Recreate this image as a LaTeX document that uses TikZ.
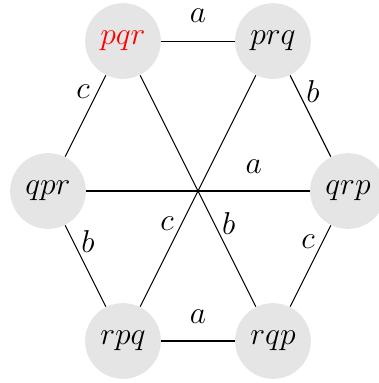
\documentclass[tikz,border=0pt]{standalone}
\usepackage{xcolor}
\usepackage{tikz}
\usetikzlibrary{positioning}

\begin{document}
\begin{tikzpicture}[
    state/.style={circle, fill=black!10, minimum size=1.01cm, inner sep=0pt, font=\large},
    edge/.style={draw=black, thin},
    lbl/.style={font=\fontsize{11.5}{13}\selectfont}
]
\useasboundingbox (-2.64,-2.56) rectangle (2.413,2.547);

% Permutation states
\node[state] (pqr) at (-1,2) {\textcolor{red}{$pqr$}};
\node[state] (prq) at (1,2) {$prq$};
\node[state] (qpr) at (-2,0) {$qpr$};
\node[state] (qrp) at (2,0) {$qrp$};
\node[state] (rpq) at (-1,-2) {$rpq$};
\node[state] (rqp) at (1,-2) {$rqp$};

% Outer hexagon
\draw[edge] (pqr) -- (prq) node[lbl, midway, above=3.5pt] {$a$};
\draw[edge] (rpq) -- (rqp) node[lbl, midway, above=3pt] {$a$};
\draw[edge] (pqr) -- (qpr) node[lbl, pos=0.2, left=-0.5pt] {$c$};
\draw[edge] (prq) -- (qrp) node[lbl, pos=0.2, right=-0.5pt] {$b$};
\draw[edge] (qpr) -- (rpq) node[lbl, pos=0.2, right=-0.5pt] {$b$};
\draw[edge] (qrp) -- (rqp) node[lbl, pos=0.2, left=-0.5pt] {$c$};

% Diagonals
\draw[edge] (qpr) -- (qrp) node[lbl, pos=0.75, above=3pt] {$a$};
\draw[edge] (prq) -- (rpq) node[lbl, pos=0.64, left=-0.5pt] {$c$};
\draw[edge] (pqr) -- (rqp) node[lbl, pos=0.64, right=-0.5pt] {$b$};

\end{tikzpicture}
\end{document}
